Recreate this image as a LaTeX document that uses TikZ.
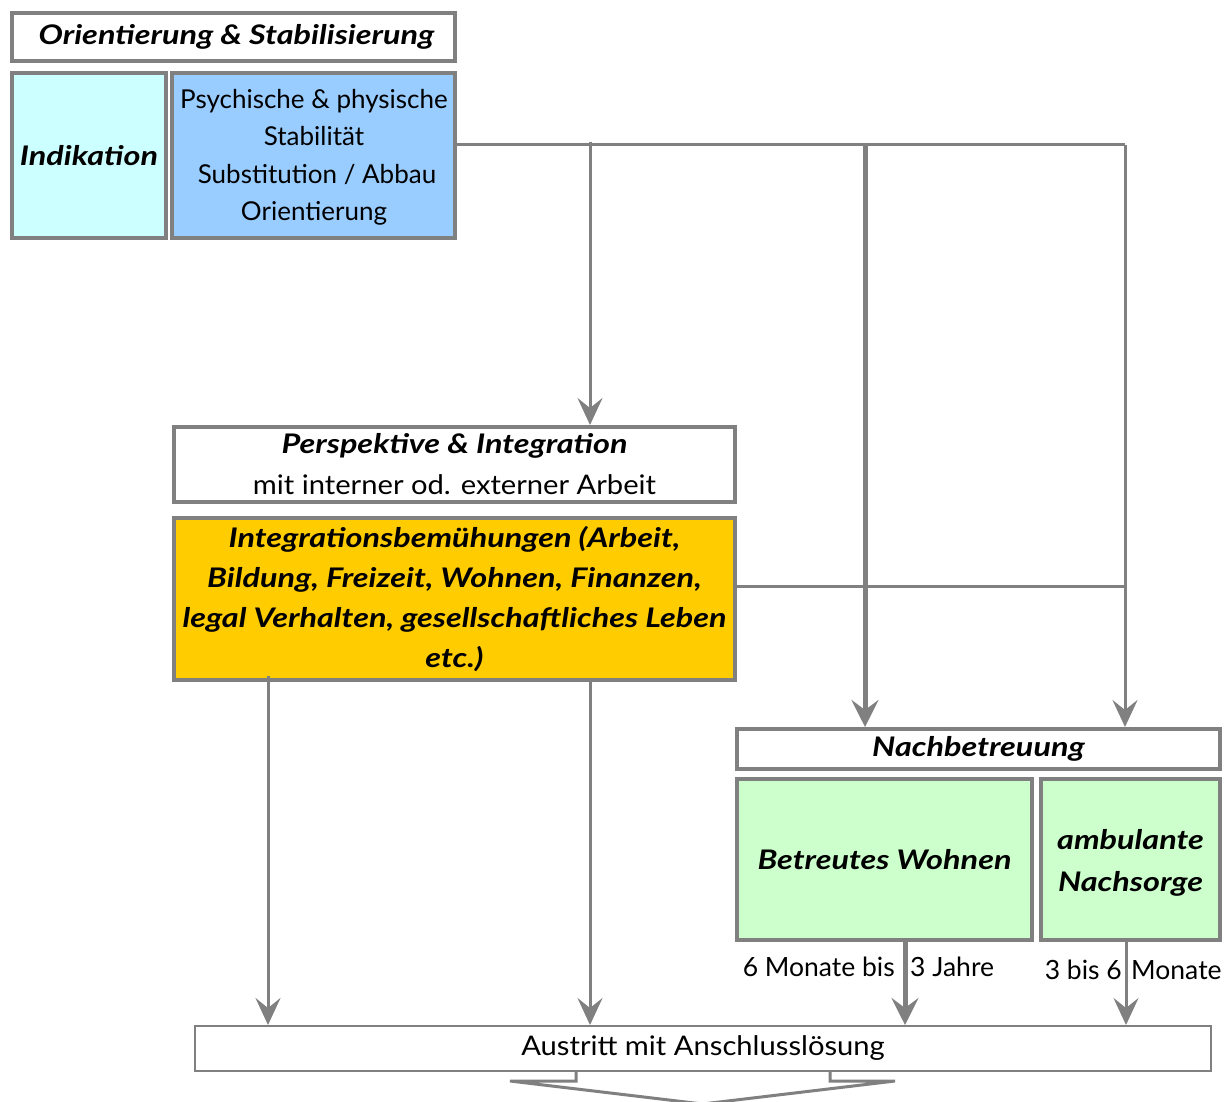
\documentclass[tikz,border=0pt]{standalone}
\usepackage{fontspec}
\setmainfont{Lato}
\newfontfamily\bifam{Lato}[FakeStretch=1.2]
\newfontfamily\widefam{Lato}[FakeStretch=1.08]
\usetikzlibrary{arrows.meta}
\definecolor{lg}{HTML}{808080}
\definecolor{cyanfill}{HTML}{CCFFFF}
\definecolor{bluefill}{HTML}{99CCFF}
\definecolor{yellowfill}{HTML}{FFCC00}
\definecolor{greenfill}{HTML}{CCFFCC}
\tikzset{
  box/.style={draw=lg, line width=4pt, inner sep=0pt, align=center, text=black},
  bi/.style={font=\bifam\fontsize{27}{40}\selectfont\bfseries\itshape},
  rg/.style={font=\fontsize{26}{37.5}\selectfont},
  thinarr/.style={draw=lg, line width=3pt, -{Stealth[length=27pt, width=25pt, inset=10pt]}},
  thickarr/.style={draw=lg, line width=5pt, -{Stealth[length=27pt, width=27pt, inset=10pt]}},
  thinline/.style={draw=lg, line width=3pt},
  lbl/.style={font=\fontsize{26.5}{30}\selectfont, inner sep=0pt}
}
\begin{document}
\begin{tikzpicture}[x=1pt, y=-1pt]
\useasboundingbox (0,0) rectangle (1228,1102);
% boxes
\node[box, bi, minimum width=443pt, minimum height=48pt] (title) at (233.5,37) {\hspace*{6pt}Orientierung \& Stabilisierung};
\node[box, bi, fill=cyanfill, minimum width=154pt, minimum height=165pt] (ind) at (89,155.5) {Indikation};
\node[box, rg, fill=bluefill, minimum width=283pt, minimum height=165pt] (blue) at (313.5,155.5) {};
\node[rg, align=center, inner sep=0pt] (bluetext) at (314,157.5) {Psychische \& physische\\Stabilität\\\hspace*{6pt}Substitution / Abbau\\Orientierung};
\node[box, font=\fontsize{26}{41}\selectfont, minimum width=561pt, minimum height=75pt] (persp) at (454.5,464.5) {{\bifam\fontsize{27}{41}\selectfont\bfseries\itshape Perspektive \& Integration}\\{\widefam\fontsize{27}{41}\selectfont mit interner od. externer Arbeit}};
\node[box, bi, fill=yellowfill, minimum width=561pt, minimum height=162pt] (yellow) at (454.5,599) {Integrationsbemühungen (Arbeit,\\Bildung, Freizeit, Wohnen, Finanzen,\\legal Verhalten, gesellschaftliches Leben\\etc.)};
\node[box, bi, minimum width=483pt, minimum height=40pt] (nach) at (978.5,749) {Nachbetreuung};
\node[box, bi, fill=greenfill, minimum width=295pt, minimum height=161pt] (bw) at (884.5,859.5) {Betreutes Wohnen};
\node[box, fill=greenfill, minimum width=179pt, minimum height=161pt] (amb) at (1130.5,859.5) {};
\node[inner sep=0pt, align=center, font=\bifam\fontsize{27}{42}\selectfont\bfseries\itshape] (ambtext) at (1130.5,863) {ambulante\\Nachsorge};
\node[box, font=\widefam\fontsize{27}{37}\selectfont, line width=2pt, minimum width=1016pt, minimum height=45pt] (aus) at (703,1048.5) {Austritt mit Anschlusslösung};
% junction coordinates
\coordinate (h1s) at (blue.east |- 0,145);
\coordinate (j590) at (590,145);
\coordinate (j865) at (865,145);
\coordinate (j1125) at (1125,145);
\coordinate (h2s) at (yellow.east |- 0,586);
\coordinate (k1125) at (1125,586);
% connectors
\draw[thinline] (h1s) -- (j1125);
\draw[thinarr] (j590) ++(0,-3) -- (persp.north -| j590);
\draw[thickarr] (j865) -- (nach.north -| j865);
\draw[thinarr] (j1125) -- (nach.north -| j1125);
\draw[thinline] (h2s) -- (k1125);
\coordinate (y268) at (268,676);
\coordinate (y590) at (590,682);
\draw[thinarr] (y268) -- (aus.north -| y268);
\draw[thinarr] (y590) -- (aus.north -| y590);
\coordinate (b905) at (bw.south -| 905,0);
\coordinate (a1126) at (amb.south -| 1126,0);
\draw[thickarr] (b905) -- (aus.north -| b905);
\draw[thinarr] (a1126) -- (aus.north -| a1126);
% labels
\node[lbl, anchor=east] (l1) at (895,967) {6 Monate bis};
\node[lbl, anchor=west] (l2) at (910,967) {3 Jahre};
\node[lbl, anchor=east] (l3) at (1122,970) {3 bis 6};
\node[lbl, anchor=west] (l4) at (1131,970) {Monate};
% outgoing block arrow
\draw[lg, line width=3pt, line join=miter]
  (aus.south -| 576,0) -- (576,1081) -- (510,1081) -- (702.5,1104)
  -- (895,1081) -- (830,1081) -- (aus.south -| 830,0);
\end{tikzpicture}
\end{document}
